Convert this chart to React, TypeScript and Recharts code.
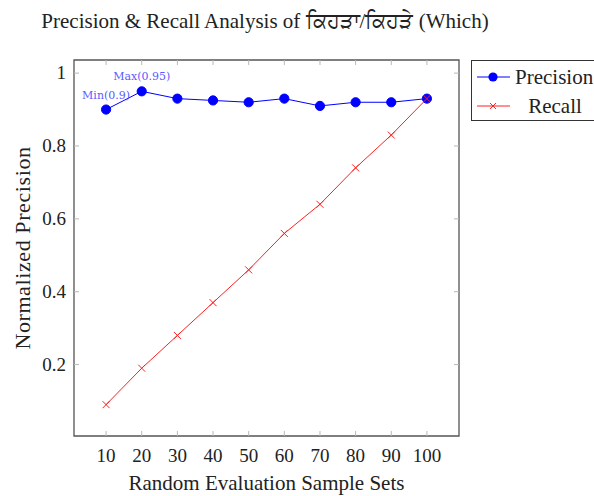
import React from "react";
import {
  LineChart,
  Line,
  XAxis,
  YAxis,
  ReferenceArea,
  ReferenceDot,
} from "recharts";

const sampleSets = [10, 20, 30, 40, 50, 60, 70, 80, 90, 100];
const precision = [0.9, 0.95, 0.93, 0.925, 0.92, 0.93, 0.91, 0.92, 0.92, 0.93];
const recall = [0.09, 0.19, 0.28, 0.37, 0.46, 0.56, 0.64, 0.74, 0.83, 0.93];
const yTicks = [0.2, 0.4, 0.6, 0.8, 1];
const notes = [
  { x: 10, y: 0.9, text: "Min(0.9)" },
  { x: 20, y: 0.95, text: "Max(0.95)" },
];

const data = sampleSets.map((s, i) => ({
  set: s,
  precision: precision[i],
  recall: recall[i],
}));

// plot frame (pixels)
const W = 594;
const H = 496;
const BOX = { left: 74, top: 60, right: 459, bottom: 436 };
const FONT = "'Liberation Serif', 'Times New Roman', serif";
const BLUE = "#0000ff";
const RED = "#ff2020";
const TICK = "#b8b8b8";

const XTick = (props: any) => {
  const { x, payload } = props;
  return (
    <g>
      <line x1={x} x2={x} y1={BOX.bottom} y2={BOX.bottom - 5} stroke={TICK} />
      <line x1={x} x2={x} y1={BOX.top} y2={BOX.top + 5} stroke={TICK} />
      <text x={x} y={BOX.bottom + 26} textAnchor="middle" fontSize={19} fill="#222" fontFamily={FONT}>
        {payload.value}
      </text>
    </g>
  );
};

const YTick = (props: any) => {
  const { y, payload } = props;
  return (
    <g>
      <line x1={BOX.left} x2={BOX.left + 5} y1={y} y2={y} stroke={TICK} />
      <line x1={BOX.right} x2={BOX.right - 5} y1={y} y2={y} stroke={TICK} />
      <text x={BOX.left - 8} y={y + 6} textAnchor="end" fontSize={19} fill="#222" fontFamily={FONT}>
        {payload.value}
      </text>
    </g>
  );
};

const PrecisionDot = (props: any) => {
  const { cx, cy } = props;
  return <circle cx={cx} cy={cy} r={4.6} fill={BLUE} stroke={BLUE} />;
};

const RecallDot = (props: any) => {
  const { cx, cy } = props;
  const s = 3.5;
  return (
    <g stroke={RED} strokeWidth={1}>
      <line x1={cx - s} y1={cy - s} x2={cx + s} y2={cy + s} />
      <line x1={cx - s} y1={cy + s} x2={cx + s} y2={cy - s} />
    </g>
  );
};

const LegendBox = () => (
  <svg width={130} height={62} style={{ display: "block" }}>
    <rect x={0.5} y={0.5} width={140} height={60} fill="#fff" stroke="#333" />
    <line x1={6} x2={39} y1={17} y2={17} stroke={BLUE} />
    <circle cx={22} cy={17} r={4.6} fill={BLUE} />
    <text x={44} y={24} fontSize={21} fontFamily={FONT} fill="#222">
      Precision
    </text>
    <line x1={6} x2={39} y1={46} y2={46} stroke={RED} />
    <g stroke={RED}>
      <line x1={19} y1={43} x2={25} y2={49} />
      <line x1={19} y1={49} x2={25} y2={43} />
    </g>
    <text x={84} y={53} fontSize={21} fontFamily={FONT} fill="#222" textAnchor="middle">
      Recall
    </text>
  </svg>
);

export default function App() {
  return (
    <div style={{ position: "absolute", left: 0, top: 0, width: W, height: H, background: "#fff" }}>
      <div
        style={{
          position: "absolute",
          left: 0,
          width: 530,
          top: 9,
          textAlign: "center",
          fontFamily: FONT,
          fontSize: 21,
          color: "#222",
        }}
      >
        Precision &amp; Recall Analysis of ਕਿਹੜਾ/ਕਿਹੜੇ (Which)
      </div>
      <LineChart
        width={W}
        height={H}
        data={data}
        margin={{ top: BOX.top, right: W - BOX.right, bottom: 0, left: 0 }}
      >
        <XAxis
          dataKey="set"
          type="number"
          domain={[1, 109]}
          ticks={sampleSets}
          axisLine={false}
          tickLine={false}
          tick={<XTick />}
          height={H - BOX.bottom}
          label={{
            value: "Random Evaluation Sample Sets",
            position: "insideBottom",
            offset: 6,
            fontSize: 21,
            fontFamily: FONT,
            fill: "#222",
          }}
        />
        <YAxis
          type="number"
          domain={[0.004, 1.036]}
          ticks={yTicks}
          axisLine={false}
          tickLine={false}
          tick={<YTick />}
          width={BOX.left}
          label={{
            value: "Normalized Precision",
            angle: -90,
            position: "insideLeft",
            offset: 22,
            fontSize: 22,
            fontFamily: FONT,
            fill: "#222",
            style: { textAnchor: "middle", letterSpacing: "0.6px" },
          }}
        />
        <ReferenceArea
          x1={1}
          x2={109}
          y1={0.004}
          y2={1.036}
          fill="none"
          fillOpacity={0}
          stroke="#555"
          strokeWidth={1.3}
        />
        <Line
          dataKey="precision"
          stroke={BLUE}
          strokeWidth={1}
          dot={<PrecisionDot />}
          isAnimationActive={false}
        />
        <Line
          dataKey="recall"
          stroke={RED}
          strokeWidth={1}
          dot={<RecallDot />}
          isAnimationActive={false}
        />
        {notes.map((n) => (
          <ReferenceDot
            key={n.text}
            x={n.x}
            y={n.y}
            r={0}
            fill="none"
            stroke="none"
            label={(p: any) => {
              const cx = p.viewBox.x + (p.viewBox.width || 0) / 2;
              const cy = p.viewBox.y + (p.viewBox.height || 0) / 2;
              return (
                <text
                  x={cx}
                  y={cy - 11}
                  textAnchor="middle"
                  fontSize={11}
                  fontFamily="'DejaVu Serif', serif"
                  fill="#5a5aff"
                >
                  {n.text}
                </text>
              );
            }}
          />
        ))}
      </LineChart>
      <div style={{ position: "absolute", left: 471, top: 60, width: 123, overflow: "hidden" }}>
        <LegendBox />
      </div>
    </div>
  );
}
